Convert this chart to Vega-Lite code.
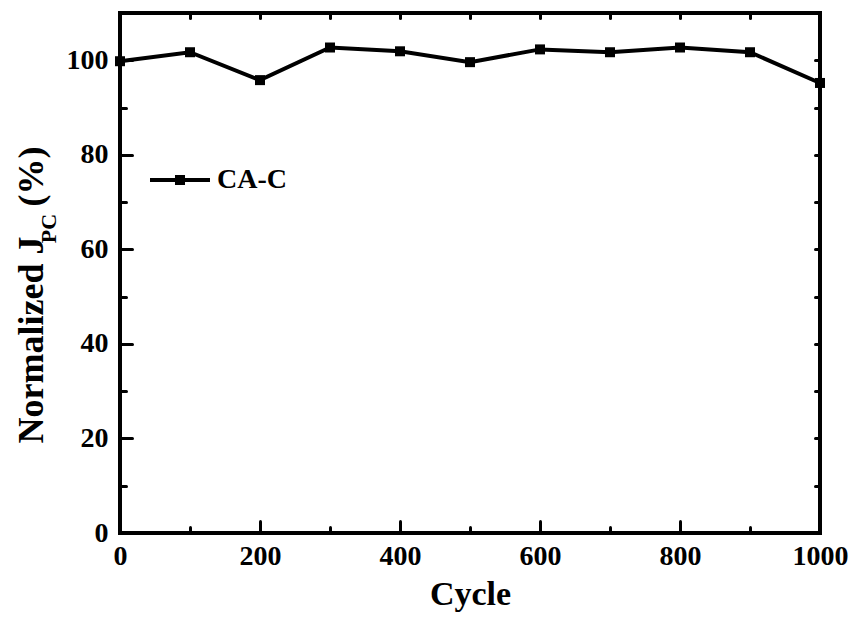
{
  "$schema": "https://vega.github.io/schema/vega-lite/v6.json",
  "autosize": "none",
  "width": 700,
  "height": 520,
  "padding": {"left": 120, "top": 13, "right": 37, "bottom": 97},
  "background": "white",
  "data": {"values": [
    {"cycle": 0, "value": 99.8, "series": "CA-C"},
    {"cycle": 100, "value": 101.7, "series": "CA-C"},
    {"cycle": 200, "value": 95.8, "series": "CA-C"},
    {"cycle": 300, "value": 102.7, "series": "CA-C"},
    {"cycle": 400, "value": 101.9, "series": "CA-C"},
    {"cycle": 500, "value": 99.6, "series": "CA-C"},
    {"cycle": 600, "value": 102.3, "series": "CA-C"},
    {"cycle": 700, "value": 101.7, "series": "CA-C"},
    {"cycle": 800, "value": 102.7, "series": "CA-C"},
    {"cycle": 900, "value": 101.7, "series": "CA-C"},
    {"cycle": 1000, "value": 95.2, "series": "CA-C"}
  ]},
  "encoding": {
    "x": {"field": "cycle", "type": "quantitative", "scale": {"domain": [0, 1000], "nice": false, "zero": false}},
    "y": {"field": "value", "type": "quantitative", "scale": {"domain": [0, 110], "nice": false, "zero": false}}
  },
  "layer": [
    {
      "mark": {"type": "line", "color": "black", "strokeWidth": 4, "clip": false},
      "encoding": {
        "x": {"field": "cycle", "type": "quantitative", "scale": {"domain": [0, 1000], "nice": false, "zero": false},
          "axis": {"orient": "bottom", "values": [0, 200, 400, 600, 800, 1000], "format": "d", "tickSize": -12, "labelPadding": 21, "title": "Cycle", "titleFontSize": 34, "titleX": 350, "titleY": 71, "titleBaseline": "alphabetic", "titleAlign": "center"}},
        "y": {"field": "value", "type": "quantitative", "scale": {"domain": [0, 110], "nice": false, "zero": false},
          "axis": {"orient": "left", "values": [0, 20, 40, 60, 80, 100], "format": "d", "tickSize": -12, "labelPadding": 24, "labelBaseline": "middle", "title": "Normalized J\u2002\u2004(%)", "titleFontSize": 36, "titleAngle": -90, "titleAlign": "left", "titleBaseline": "alphabetic", "titleX": -78, "titleY": 430}}
      }
    },
    {
      "mark": {"type": "point", "shape": "square", "filled": true, "size": 100, "opacity": 1, "clip": false},
      "encoding": {
        "x": {"field": "cycle", "type": "quantitative", "axis": null},
        "y": {"field": "value", "type": "quantitative", "axis": null},
        "color": {"field": "series", "type": "nominal", "scale": {"range": ["black"]},
          "legend": {"orient": "none", "legendX": 30, "legendY": 137, "title": null, "symbolType": "M-1,-0.067H1V0.067H-1Z M-0.167,-0.167H0.167V0.167H-0.167Z", "symbolSize": 3600, "symbolFillColor": "black", "symbolStrokeWidth": 0, "symbolOpacity": 1, "labelFont": "Liberation Serif", "labelFontSize": 28, "labelFontWeight": "bold", "labelColor": "black", "labelOffset": 7, "labelBaseline": "middle", "padding": 0}}
      }
    },
    {
      "mark": {"type": "point", "opacity": 0},
      "encoding": {
        "x": {"field": "cycle", "type": "quantitative",
          "axis": {"orient": "bottom", "values": [100, 300, 500, 700, 900], "tickSize": -6, "labels": false, "title": null}},
        "y": {"field": "value", "type": "quantitative",
          "axis": {"orient": "left", "values": [10, 30, 50, 70, 90], "tickSize": -6, "labels": false, "title": "PC", "titleFontSize": 22, "titleAngle": -90, "titleAlign": "center", "titleBaseline": "alphabetic", "titleX": -65, "titleY": 215}}
      }
    },
    {
      "mark": {"type": "point", "opacity": 0},
      "encoding": {
        "x": {"field": "cycle", "type": "quantitative",
          "axis": {"orient": "top", "values": [0, 100, 200, 300, 400, 500, 600, 700, 800, 900, 1000], "tickSize": -5, "labels": false, "title": null}},
        "y": {"field": "value", "type": "quantitative",
          "axis": {"orient": "right", "values": [0, 10, 20, 30, 40, 50, 60, 70, 80, 90, 100, 110], "tickSize": -5, "labels": false, "title": null}}
      }
    }
  ],
  "resolve": {"axis": {"x": "independent", "y": "independent"}},
  "config": {
    "view": {"stroke": "black", "strokeWidth": 4},
    "axis": {
      "domain": false, "grid": false,
      "tickColor": "black", "tickWidth": 3, "tickCap": "round",
      "labelFont": "Liberation Serif", "labelFontSize": 28, "labelFontWeight": "bold", "labelColor": "black",
      "labelOverlap": false, "labelFlush": false, "labelBound": false,
      "titleFont": "Liberation Serif", "titleFontWeight": "bold", "titleColor": "black"
    }
  }
}
